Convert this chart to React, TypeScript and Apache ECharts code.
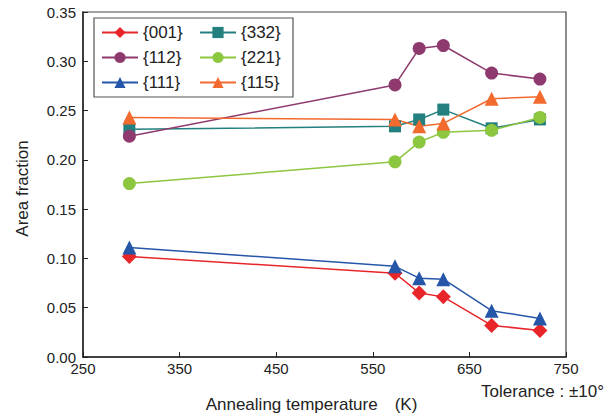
import React, { useEffect, useRef } from "react";
import * as echarts from "echarts";

const temps = [298, 573, 598, 623, 673, 723];
const s001 = [0.102, 0.085, 0.065, 0.061, 0.032, 0.027];
const s332 = [0.231, 0.234, 0.241, 0.251, 0.232, 0.241];
const s112 = [0.224, 0.276, 0.313, 0.316, 0.288, 0.282];
const s221 = [0.176, 0.198, 0.218, 0.228, 0.230, 0.243];
const s111 = [0.111, 0.092, 0.080, 0.079, 0.047, 0.039];
const s115 = [0.243, 0.241, 0.234, 0.237, 0.262, 0.264];
const yTicks = ["0.00", "0.05", "0.10", "0.15", "0.20", "0.25", "0.30", "0.35"];

const font = "Liberation Sans, Arial, sans-serif";

export default function App() {
  const ref = useRef<HTMLDivElement>(null);
  useEffect(() => {
    const chart = echarts.init(ref.current!, null, { renderer: "svg" });
    const mk = (name: string, vals: number[], color: string, symbol: string, size: number) => ({
      name,
      type: "line",
      data: temps.map((t, i) => [t, vals[i]]),
      symbol,
      symbolSize: size,
      lineStyle: { color, width: 1.5 },
      itemStyle: { color },
      z: 3,
    });
    chart.setOption({
      animation: false,
      backgroundColor: "#fff",
      grid: {
        left: 83, right: 50, top: 12, bottom: 62,
        outerBoundsMode: "none",
        containLabel: false,
        show: true, borderColor: "#444", borderWidth: 1.2, backgroundColor: "transparent",
      },
      legend: {
        left: 94, top: 18, width: 200,
        orient: "horizontal",
        data: ["{001}", "{332}", "{112}", "{221}", "{111}", "{115}"],
        itemWidth: 36, itemHeight: 14, itemGap: 8,
        borderColor: "#555", borderWidth: 1.2, padding: [6, 4, 6, 7],
        textStyle: { fontFamily: font, fontSize: 17, color: "#222", width: 48, lineHeight: 16 },
      },
      xAxis: {
        type: "value", min: 250, max: 750, interval: 100,
        name: "Annealing temperature\u3000(K)", nameLocation: "middle", nameGap: 39,
        nameTextStyle: { fontFamily: font, fontSize: 17, color: "#222", padding: [0, 26, 0, 0] },
        axisLine: { onZero: false, lineStyle: { color: "#222", width: 1.5 } },
        axisTick: { inside: true, length: 5, lineStyle: { color: "#222" } },
        axisLabel: { fontFamily: font, fontSize: 15, color: "#222", margin: 4 },
        splitLine: { show: false },
      },
      yAxis: {
        type: "value", min: 0, max: 0.35, interval: 0.05,
        name: "Area fraction", nameLocation: "middle", nameGap: 52, nameRotate: 90,
        nameTextStyle: { fontFamily: font, fontSize: 17, color: "#222", padding: [0, 8, 0, 0] },
        axisLine: { show: true, onZero: false, lineStyle: { color: "#222", width: 1.5 } },
        axisTick: { show: true, inside: true, length: 5, lineStyle: { color: "#222" } },
        axisLabel: {
          fontFamily: font, fontSize: 15, color: "#222", margin: 7,
          formatter: (v: number) => yTicks[Math.round(v / 0.05)] ?? v.toFixed(2),
        },
        splitLine: { show: false },
      },
      graphic: [
        {
          type: "text", right: 12, top: 383,
          style: { text: "Tolerance : \u00b110\u00b0", fontFamily: font, fontSize: 17, fill: "#222" },
        },
      ],
      series: [
        mk("{001}", s001, "#e8262a", "diamond", 15),
        mk("{332}", s332, "#24807e", "rect", 12),
        mk("{112}", s112, "#8e3a6e", "circle", 13),
        mk("{221}", s221, "#8dc63f", "circle", 13),
        mk("{111}", s111, "#2656a8", "triangle", 14),
        mk("{115}", s115, "#f26a2e", "triangle", 14),
      ],
    });
    return () => chart.dispose();
  }, []);
  return <div ref={ref} style={{ position: "fixed", left: 0, top: 0, width: 616, height: 419 }} />;
}
